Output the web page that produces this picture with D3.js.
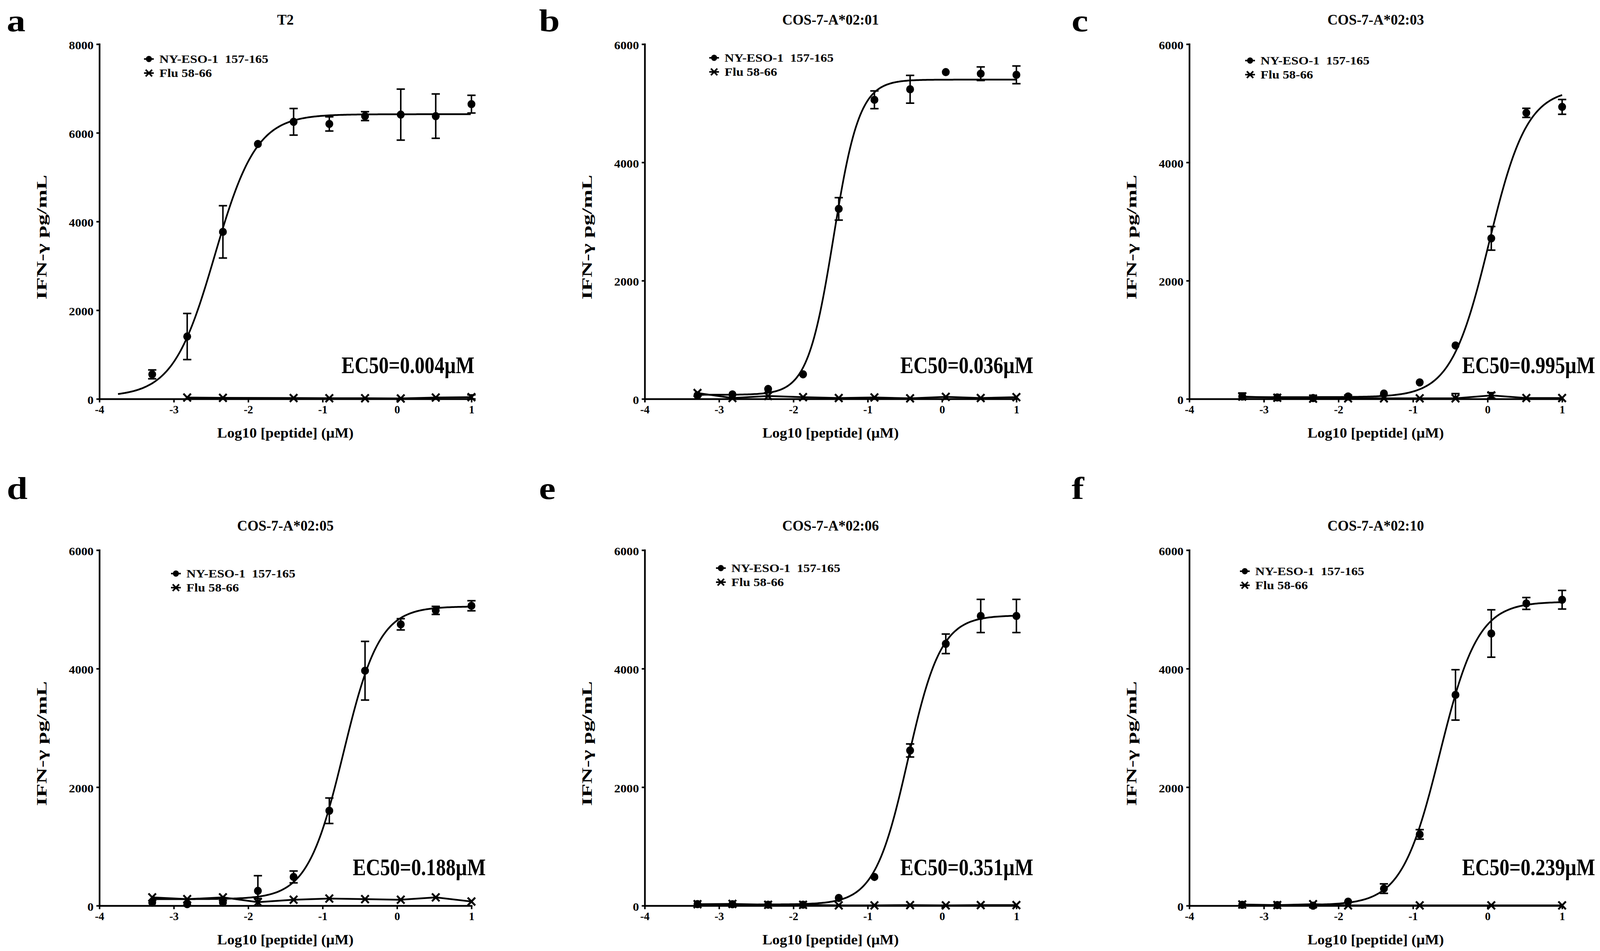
<!DOCTYPE html>
<html>
<head>
<meta charset="utf-8">
<script src="https://cdn.jsdelivr.net/npm/d3@7/dist/d3.min.js"></script>
<style>
  html, body { margin: 0; padding: 0; width: 100%; height: 100%; overflow: hidden; background: #fff; }
  #chart { display: block; width: 100vw; height: 100vh; }
  svg text { font-family: "Liberation Serif", "Times New Roman", serif; font-weight: bold; fill: #000; }
</style>
</head>
<body>
<svg id="chart"></svg>
<script>
const width = 4266;
const height = 2434;

// ---- data ----
// log10 dose (uM), 3-fold dilution series
const doses = [-3.29, -2.82, -2.34, -1.87, -1.39, -0.91, -0.43, 0.05, 0.52, 1.0];

const panelLetters = ["a", "b", "c", "d", "e", "f"];
const panelTitles = ["T2", "COS-7-A*02:01", "COS-7-A*02:03", "COS-7-A*02:05", "COS-7-A*02:06", "COS-7-A*02:10"];
const ec50Labels = ["EC50=0.004\u00b5M", "EC50=0.036\u00b5M", "EC50=0.995\u00b5M", "EC50=0.188\u00b5M", "EC50=0.351\u00b5M", "EC50=0.239\u00b5M"];
const yMax = [8000, 6000, 6000, 6000, 6000, 6000];
const yTicksA = [0, 2000, 4000, 6000, 8000];
const yTicks = [0, 2000, 4000, 6000];
const xTicks = [-4, -3, -2, -1, 0, 1];
const legendNames = ["NY-ESO-1  157-165", "Flu 58-66"];

// NY-ESO-1 157-165 mean and SD (pg/mL)
const nyMean = [
  [554, 1407, 3767, 5748, 6249, 6201, 6377, 6411, 6377, 6647],
  [61, 76, 168, 417, 3214, 5059, 5237, 5527, 5500, 5481],
  [41, 25, 15, 41, 91, 279, 904, 2716, 4838, 4939],
  [52, 26, 52, 250, 485, 1602, 3965, 4748, 4983, 5061],
  [26, 25, 16, 16, 130, 485, 2619, 4419, 4889, 4889],
  [15, 10, 0, 68, 288, 1203, 3557, 4593, 5100, 5163]
];
const nyErr = [
  [100, 520, 590, 0, 300, 160, 100, 575, 500, 200],
  [0, 0, 0, 0, 190, 150, 235, 0, 115, 150],
  [0, 0, 0, 0, 0, 0, 0, 200, 77, 125],
  [0, 0, 0, 256, 100, 215, 495, 95, 68, 85],
  [0, 0, 0, 0, 0, 0, 110, 165, 280, 280],
  [0, 0, 0, 0, 80, 80, 425, 400, 100, 157]
];

// Flu 58-66 control
const fluDoses = [
  [-2.82, -2.34, -1.39, -0.91, -0.43, 0.05, 0.52, 1.0],
  doses, doses, doses, doses,
  [-3.29, -2.82, -2.34, -1.87, -0.91, 0.05, 1.0]
];
const fluMean = [
  [30, 25, 20, 15, 15, 10, 30, 40],
  [100, 15, 50, 30, 15, 25, 10, 35, 15, 30],
  [40, 20, 5, 10, 10, 10, 10, 60, 15, 15],
  [140, 110, 140, 60, 100, 120, 110, 100, 140, 70],
  [25, 30, 15, 15, 5, 5, 10, 5, 10, 10],
  [20, 10, 25, 5, 5, 5, 5]
];
const fluErr = [
  [0, 0, 0, 0, 0, 0, 0, 50],
  [0, 0, 0, 0, 0, 0, 0, 0, 0, 0],
  [60, 0, 0, 0, 0, 0, 80, 45, 0, 0],
  [0, 0, 0, 60, 0, 0, 0, 0, 0, 0],
  [0, 0, 0, 0, 0, 0, 0, 0, 0, 0],
  [0, 0, 0, 0, 0, 0, 0]
];

// fitted 4-parameter curves: bottom, top, logEC50, hill slope, first x
const fitBottom = [50, 70, 30, 110, 20, 10];
const fitTop = [6420, 5400, 5250, 5050, 4900, 5130];
const fitLogEC50 = [-2.45, -1.46, 0.02, -0.72, -0.46, -0.64];
const fitHill = [1.55, 2.5, 1.7, 1.8, 1.95, 1.7];
const fitStart = [-3.75, -3.3, -3.3, -3.3, -3.3, -3.3];

// ---- layout ----
const cols = [[265, 1257], [1719, 2710], [3171, 4165]];
const rows = [[113, 1021], [1408, 2318]];
const letterX = [18, 1437, 2857];
const letterY = [80, 1277];
const titleY = [63, 1358];
const legendOffset = [[132, 38], [185, 35], [162, 42], [204, 60], [203, 46], [148, 54]];
const ecRight = [8, 45, 88, 38, 45, 88];
const ecAbove = [66, 66, 66, 78, 78, 78];

const svg = d3.select("#chart")
  .attr("viewBox", `0 0 ${width} ${height}`)
  .attr("preserveAspectRatio", "none");

svg.append("rect").attr("width", width).attr("height", height).attr("fill", "#fff");

function stretchedText(g, x, y, str, size, sx, anchor) {
  return g.append("text")
    .attr("transform", `translate(${x},${y}) scale(${sx},1)`)
    .attr("text-anchor", anchor)
    .attr("font-size", size)
    .style("white-space", "pre")
    .text(str);
}

function crossPath(s) {
  return `M${-s},${-s}L${s},${s}M${-s},${s}L${s},${-s}`;
}

function fourPL(i, x) {
  return fitBottom[i] + (fitTop[i] - fitBottom[i]) / (1 + Math.pow(10, (fitLogEC50[i] - x) * fitHill[i]));
}

function drawPanel(i) {
  const [left, right] = cols[i % 3];
  const [top, bottom] = rows[Math.floor(i / 3)];
  const g = svg.append("g");

  const x = d3.scaleLinear().domain([-4, 1]).range([left, right]);
  const y = d3.scaleLinear().domain([0, yMax[i]]).range([bottom, top]);

  // axes
  const axX = g.append("g")
    .attr("transform", `translate(0,${bottom})`)
    .call(d3.axisBottom(x).tickValues(xTicks).tickSize(9).tickSizeOuter(0).tickPadding(8)
      .tickFormat(d => d < 0 ? "-" + Math.abs(d) : String(d)));
  const axY = g.append("g")
    .attr("transform", `translate(${left},0)`)
    .call(d3.axisLeft(y).tickValues(i === 0 ? yTicksA : yTicks).tickSize(8).tickSizeOuter(0).tickPadding(6)
      .tickFormat(d3.format("d")));
  [axX, axY].forEach(a => {
    a.attr("font-family", null).attr("font-size", null);
    a.select(".domain").attr("stroke-width", 4.5).attr("stroke-linecap", "square");
    a.selectAll(".tick line").attr("stroke-width", 4);
  });
  axX.selectAll(".tick text")
    .attr("font-size", 30)
    .attr("dy", "0.68em");
  axY.selectAll(".tick text")
    .attr("font-size", 30)
    .attr("dy", "0.42em")
    .attr("transform", "scale(1.1,1)");

  // axis titles
  stretchedText(g, (left + right) / 2, bottom + 99, "Log10 [peptide] (\u00b5M)", 36, 1.1, "middle");
  g.append("text")
    .attr("transform", `translate(${left - 141},${(top + bottom) / 2 + 40}) rotate(-90) scale(1.5,1)`)
    .attr("text-anchor", "middle")
    .attr("font-size", 38)
    .text("IFN-\u03b3 pg/mL");

  // panel title and letter
  stretchedText(g, (left + right) / 2, titleY[Math.floor(i / 3)], panelTitles[i], 38, 1.0, "middle");
  stretchedText(g, letterX[i % 3], letterY[Math.floor(i / 3)], panelLetters[i], 80, 1.25, "start");

  // fitted curve
  const curveX = d3.range(fitStart[i], 1.0001, 0.02);
  const line = d3.line().x(d => x(d)).y(d => y(fourPL(i, d)));
  g.append("path")
    .attr("d", line(curveX))
    .attr("fill", "none")
    .attr("stroke", "#000")
    .attr("stroke-width", 4.5);

  // flu control line
  const fluPts = fluDoses[i].map((d, k) => ({ x: d, m: fluMean[i][k], e: fluErr[i][k] }));
  g.append("path")
    .attr("d", d3.line().x(d => x(d.x)).y(d => y(d.m))(fluPts))
    .attr("fill", "none")
    .attr("stroke", "#000")
    .attr("stroke-width", 4.5);

  // error bars
  const nyPts = doses.map((d, k) => ({ x: d, m: nyMean[i][k], e: nyErr[i][k] }));
  const bars = nyPts.concat(fluPts).filter(d => d.e > 0);
  const eb = g.append("g").attr("stroke", "#000").attr("stroke-width", 4);
  bars.forEach(d => {
    const y1 = y(d.m + d.e), y0 = y(Math.max(0, d.m - d.e));
    eb.append("line").attr("x1", x(d.x)).attr("x2", x(d.x)).attr("y1", y1).attr("y2", y0);
    eb.append("line").attr("x1", x(d.x) - 11).attr("x2", x(d.x) + 11).attr("y1", y1).attr("y2", y1);
    eb.append("line").attr("x1", x(d.x) - 11).attr("x2", x(d.x) + 11).attr("y1", y0).attr("y2", y0);
  });

  // markers
  g.selectAll(".fluMark")
    .data(fluPts)
    .enter()
    .append("path")
    .attr("transform", d => `translate(${x(d.x)},${y(d.m)})`)
    .attr("d", crossPath(10))
    .attr("stroke", "#000")
    .attr("stroke-width", 5);
  g.selectAll(".nyDot")
    .data(nyPts)
    .enter()
    .append("circle")
    .attr("cx", d => x(d.x))
    .attr("cy", d => y(d.m))
    .attr("r", 10.5)
    .attr("fill", "#000");

  // legend
  const lx = left + legendOffset[i][0];
  const ly = top + legendOffset[i][1];
  const leg = g.append("g");
  [0, 1].forEach(k => {
    const yy = ly + k * 36;
    leg.append("line").attr("x1", lx - 13).attr("x2", lx + 13).attr("y1", yy).attr("y2", yy)
      .attr("stroke", "#000").attr("stroke-width", 4);
    if (k === 0) {
      leg.append("circle").attr("cx", lx).attr("cy", yy).attr("r", 8).attr("fill", "#000");
    } else {
      leg.append("path").attr("transform", `translate(${lx},${yy})`).attr("d", crossPath(8.5))
        .attr("stroke", "#000").attr("stroke-width", 4.5);
    }
    stretchedText(leg, lx + 28, yy + 10, legendNames[k], 29, 1.2, "start");
  });

  // EC50 annotation
  stretchedText(g, right + ecRight[i], bottom - ecAbove[i], ec50Labels[i], 62, 0.85, "end");
}

panelTitles.forEach((t, i) => drawPanel(i));
</script>
</body>
</html>
